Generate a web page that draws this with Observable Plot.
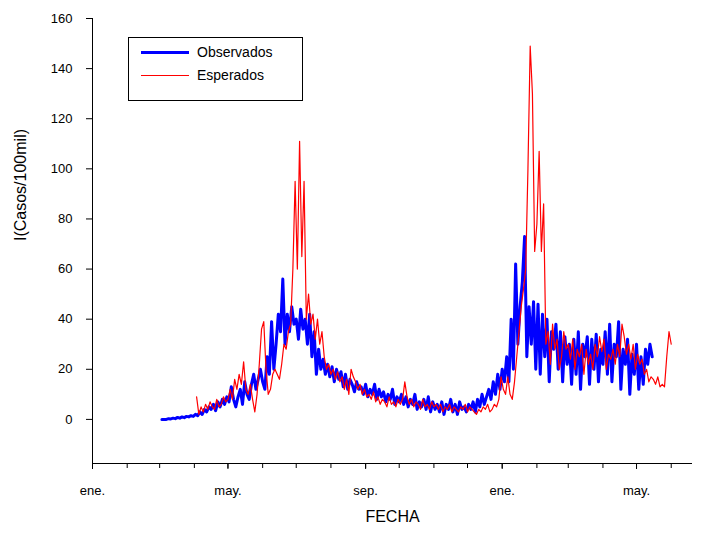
<!DOCTYPE html>
<html><head><meta charset="utf-8">
<script src="https://cdn.jsdelivr.net/npm/d3@7"></script>
<script src="https://cdn.jsdelivr.net/npm/@observablehq/plot@0.6"></script>
<style>
body{margin:0;background:#fff;font-family:"Liberation Sans",Arial,sans-serif;}
#wrap{position:relative;width:701px;height:538px;}
#legend{position:absolute;left:128px;top:37px;width:173px;height:62px;border:1px solid #000;background:#fff;font-size:14px;}
#legend .row{position:absolute;left:12px;display:flex;align-items:center;}
#legend .sw{width:48px;margin-right:8px;}
</style></head><body>
<div id="wrap"><div id="chart"></div>
<div id="legend">
<div class="row" style="top:6px"><div class="sw" style="border-top:3px solid #0000ff"></div>Observados</div>
<div class="row" style="top:29px"><div class="sw" style="border-top:1px solid #ff0000"></div>Esperados</div>
</div></div>
<script>
const obsStart = "2020-03-03";
const observados = [
0,0,0,0.3,0.2,0.5,0.3,0.8,0.5,1,0.7,1.2,1,1.5,1.2,
2,1.5,3,2,4,3,5,4,6,3.5,7,5,8,6,9,
7,13,8,5,9,12,6,15,10,8,14,18,12,16,20,
15,12,25,18,39,20,30,42,35,56,30,42,35,45,38,
40,32,44,36,40,30,42,25,35,18,28,20,24,18,22,
17,21,15,20,16,19,13,18,12,16,14,11,15,12,13,
10,14,9,12,10,14,8,12,9,11,7,10,8,12,6,
9,7,10,6,9,5,8,6,10,4,7,5,8,4,9,
3,7,4,6,3,7,2,6,4,8,3,6,2,7,4,
5,3,6,4,7,3,8,5,10,6,9,12,8,15,10,
18,12,20,15,25,15,40,20,62,30,45,55,73,25,45,
30,47,20,46,18,42,25,40,15,35,28,38,20,35,15,
33,22,30,14,32,18,35,12,30,25,33,14,32,20,34,
15,28,22,35,18,38,15,30,25,39,12,28,22,32,10,
26,18,30,12,25,14,28,22,30,25];
const espStart = "2020-04-03";
const esperados = [
9,2,5,3,6,4,7,5,4,8,5,6,9,7,8,
12,8,16,12,18,14,23,12,10,14,8,3,10,22,36,
39,20,10,12,18,20,18,16,22,30,28,35,38,60,95,
60,111,65,95,40,50,38,42,32,40,30,35,25,20,22,
18,20,16,19,15,17,12,16,10,20,17,15,12,14,10,
12,9,10,8,11,7,9,6,8,7,5,9,6,7,5,
8,6,8,15,9,6,8,5,7,6,4,8,5,6,4,
7,5,6,4,6,3,5,4,6,3,5,4,3,5,4,
6,3,5,4,3,2,4,3,5,4,6,3,4,6,5,
8,17,12,10,17,10,8,15,25,35,45,52,60,100,149,
130,67,78,107,67,86,30,35,22,38,28,32,20,25,35,
28,30,24,32,20,28,25,30,18,28,22,26,20,30,25,
33,27,32,20,26,24,28,22,30,25,38,33,26,30,24,
30,20,26,22,24,18,20,15,17,16,14,17,13,14,13,
25,35,30];
const yTicks = [0,20,40,60,80,100,120,140,160];
const monthNames = ["ene.","feb.","mar.","abr.","may.","jun.","jul.","ago.","sep.","oct.","nov.","dic."];

const toRows = (start, vals) => vals.map((v,i)=>({date:d3.utcDay.offset(new Date(start+"T00:00Z"),2*i), v}));
const obs = toRows(obsStart, observados), esp = toRows(espStart, esperados);
const x0 = new Date("2020-01-01T00:00Z"), x1 = new Date("2021-06-20T00:00Z");
const majors = d3.utcMonth.every(4).range(x0, x1);
const minors = d3.utcMonth.range(x0, x1);

const chart = Plot.plot({
  width:701, height:538, marginLeft:92, marginRight:9, marginTop:18, marginBottom:75,
  style:{fontFamily:"Liberation Sans, Arial, sans-serif", fontSize:"13px", color:"#000"},
  x:{type:"utc", domain:[x0,x1]},
  y:{domain:[-17.6,160]},
  marks:[
    Plot.ruleX([x0],{stroke:"#000"}),
    Plot.ruleY([-17.6],{stroke:"#000"}),
    Plot.axisX({ticks:minors, tickFormat:()=>"", tickSize:5, label:null}),
    Plot.axisX({ticks:majors, tickFormat:d=>monthNames[d.getUTCMonth()], tickSize:6, tickPadding:16, fontSize:13, label:null}),
    Plot.axisY({ticks:yTicks, tickSize:6, tickPadding:14, fontSize:13, label:null}),
    Plot.lineY(obs,{x:"date", y:"v", stroke:"#0000ff", strokeWidth:3}),
    Plot.lineY(esp,{x:"date", y:"v", stroke:"#ff0000", strokeWidth:1.2}),
    Plot.text(["FECHA"],{frameAnchor:"bottom", dy:58, fontSize:16}),
    Plot.text(["I(Casos/100mil)"],{frameAnchor:"left", dx:-72, rotate:-90, fontSize:16})
  ]
});
document.getElementById("chart").appendChild(chart);
</script></body></html>
